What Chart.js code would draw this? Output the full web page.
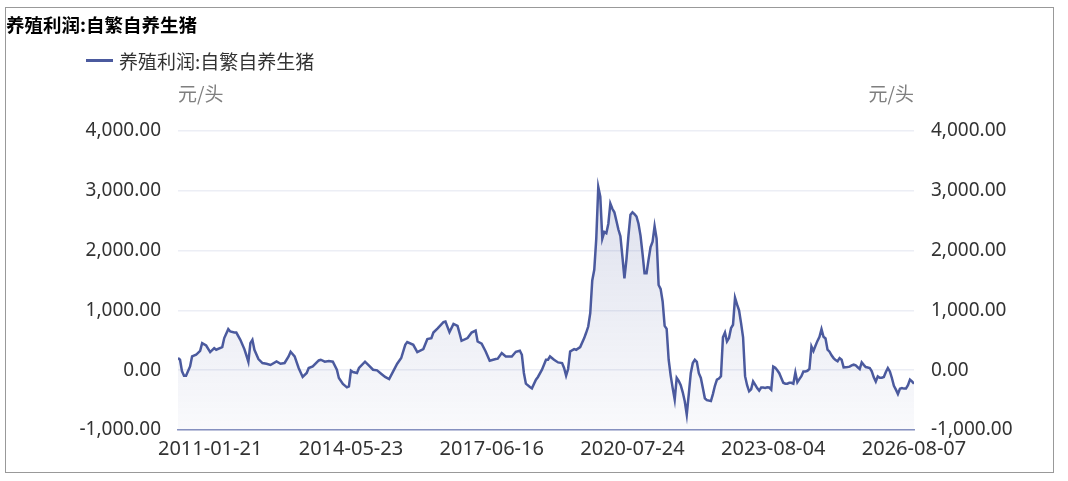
<!DOCTYPE html>
<html>
<head>
<meta charset="utf-8">
<script src="https://cdn.jsdelivr.net/npm/chart.js@4.4.1/dist/chart.umd.min.js"></script>
<style>
  html, body { margin: 0; padding: 0; background: #fff; }
  #wrap { position: relative; width: 1068px; height: 481px; }
  #frame { position: absolute; left: 5px; top: 7px; width: 1047px; height: 464px; border: 1px solid #999; pointer-events: none; }
  canvas { position: absolute; left: 0; top: 0; }
</style>
</head>
<body>
<div id="wrap">
  <canvas id="c" width="1068" height="481"></canvas>
  <div id="frame"></div>
</div>
<script>
// ---- data ----
const chartTitle = '养殖利润:自繁自养生猪';
const seriesName = '养殖利润:自繁自养生猪';
const unitLabel = '元/头';

// category periods (position on the category axis) and profit values, early part
const earlyPeriods = [0,1,2,3,4,6,7,9,11,12,14,16,18,19,22,23,25,26,28,29,31,33,34,35,36,37,38,40,42,44,46,49,51,53,55,56,58,60,62,64,65,67,70,71,73,75,77,79,80,82,84,85,86,87,89,90,93,95,97,99,101,103,105,107,109,111,113,114,117,119,122,124,126,127,129,132,133,135,137,139,140,141,144,146,148,149,151,153,155,158,159,161,163,166,168,170,171,172,173,175,176,178,179,181,183,184,185,187,189,191,192,193,194,195,197,198,200,202,203,204];
const earlyProfit = [203,175,-20,-92,-92,63,230,258,325,453,413,303,370,342,387,537,687,647,630,630,508,353,250,140,453,508,342,187,120,108,87,147,108,120,230,308,230,37,-113,-47,37,63,163,175,142,153,142,8,-130,-230,-287,-270,-8,-30,-47,37,142,75,8,-3,-58,-113,-147,-20,108,203,425,470,425,303,353,520,537,630,697,803,813,637,775,742,620,492,537,630,663,480,442,313,158,187,193,287,230,230,308,325,258,-47,-225,-280,-303,-158,-113,8,175,175,230,175,130,120,37,-92,20,313,353,342,387,537,630,730];

// later part: consecutive periods starting at latePeriodStart
const latePeriodStart = 205;
const lateProfit = [953,1500,1680,2200,3063,2900,2200,2313,2290,2450,2787,2700,2640,2500,2353,2242,1900,1537,1850,2250,2600,2640,2610,2570,2450,2250,1950,1620,1620,1850,2060,2147,2408,2200,1425,1360,1150,742,690,175,-90,-300,-492,-130,-180,-250,-370,-520,-742,-400,-50,120,175,140,-50,-130,-297,-470,-500,-508,-515,-400,-260,-158,-140,-100,550,630,480,537,703,760,1210,1100,1000,787,550,-100,-250,-353,-320,-187,-240,-300,-342,-290,-290,-297,-285,-290,-325,60,42,0,-50,-130,-210,-225,-225,-210,-210,-225,-40,-203,-150,-100,-20,-20,-10,20,397,320,408,490,560,687,560,530,342,310,250,203,170,150,203,175,47,50,53,60,80,92,80,50,20,130,90,53,45,37,-20,-120,-190,-103,-125,-125,-113,-30,37,-20,-130,-260,-325,-397,-310,-300,-308,-308,-250,-158,-187,-225];

const tickPeriods = [16, 86, 156, 226, 296, 366];
const tickLabels = ['2011-01-21', '2014-05-23', '2017-06-16', '2020-07-24', '2023-08-04', '2026-08-07'];
const yTicks = [-1000, 0, 1000, 2000, 3000, 4000];

// ---- build ----
const points = [];
earlyPeriods.forEach((p, i) => points.push({ x: p, y: earlyProfit[i] }));
lateProfit.forEach((v, i) => points.push({ x: latePeriodStart + i, y: v }));

const LINE = '#4b5a9e';
const numFont = { family: "'Noto Sans', 'Noto Sans CJK SC', sans-serif", size: 19 };
const dateFont = { family: "'Noto Sans', 'Noto Sans CJK SC', sans-serif", size: 20 };
const fmt = v => v.toLocaleString('en-US', { minimumFractionDigits: 2, maximumFractionDigits: 2 });

const headerPlugin = {
  id: 'header',
  afterDraw(chart) {
    const ctx = chart.ctx;
    const a = chart.chartArea;
    ctx.save();
    ctx.textBaseline = 'middle';
    ctx.fillStyle = '#000';
    ctx.font = "bold 18.5px 'Noto Sans CJK SC', sans-serif";
    ctx.textAlign = 'left';
    ctx.fillText(chartTitle, 6, 25);
    // legend
    ctx.strokeStyle = LINE;
    ctx.lineWidth = 3;
    ctx.beginPath();
    ctx.moveTo(86, 60.5);
    ctx.lineTo(113, 60.5);
    ctx.stroke();
    ctx.fillStyle = '#333';
    ctx.font = "19px 'Noto Sans CJK SC', sans-serif";
    ctx.fillText(seriesName, 119, 62);
    // units
    ctx.fillStyle = '#7f7f7f';
    ctx.font = "19px 'Noto Sans CJK SC', sans-serif";
    ctx.textAlign = 'left';
    ctx.fillText(unitLabel, a.left, 94);
    ctx.textAlign = 'right';
    ctx.fillText(unitLabel, a.right, 94);
    ctx.restore();
  }
};

new Chart(document.getElementById('c'), {
  type: 'line',
  data: {
    datasets: [{
      label: seriesName,
      data: points,
      borderColor: LINE,
      borderWidth: 2.5,
      pointRadius: 0,
      tension: 0,
      fill: 'start',
      backgroundColor(ctx) {
        const a = ctx.chart.chartArea;
        if (!a) return 'rgba(75,90,158,0.08)';
        const g = ctx.chart.ctx.createLinearGradient(0, a.top, 0, a.bottom);
        g.addColorStop(0, 'rgba(75,90,158,0.22)');
        g.addColorStop(1, 'rgba(75,90,158,0.03)');
        return g;
      },
      yAxisID: 'y'
    }]
  },
  options: {
    responsive: false,
    animation: false,
    layout: { padding: { top: 131, left: 0, right: 0, bottom: 0 } },
    plugins: { legend: { display: false }, title: { display: false }, tooltip: { enabled: false } },
    scales: {
      x: {
        type: 'linear',
        min: 0,
        max: 366,
        afterBuildTicks(scale) { scale.ticks = tickPeriods.map(v => ({ value: v })); },
        afterFit(scale) { scale.height = 51; },
        ticks: {
          autoSkip: false,
          maxRotation: 0,
          padding: 7,
          color: '#333',
          font: dateFont,
          callback(v) { const i = tickPeriods.indexOf(v); return i >= 0 ? tickLabels[i] : ''; }
        },
        grid: { display: false, drawTicks: false },
        border: { display: true, color: '#8792c0', width: 1.5 }
      },
      y: {
        position: 'left',
        min: -1000,
        max: 4000,
        afterBuildTicks(scale) { scale.ticks = yTicks.map(v => ({ value: v })); },
        afterFit(scale) { scale.width = 178; },
        ticks: { padding: 17, color: '#333', font: numFont, callback: v => fmt(v) },
        grid: { color: '#eceef5', lineWidth: 1.5, drawTicks: false },
        border: { display: false }
      },
      y2: {
        position: 'right',
        min: -1000,
        max: 4000,
        afterBuildTicks(scale) { scale.ticks = yTicks.map(v => ({ value: v })); },
        afterFit(scale) { scale.width = 154; },
        ticks: { padding: 17, color: '#333', font: numFont, callback: v => fmt(v) },
        grid: { display: false, drawTicks: false },
        border: { display: false }
      }
    }
  },
  plugins: [headerPlugin]
});
</script>
</body>
</html>
